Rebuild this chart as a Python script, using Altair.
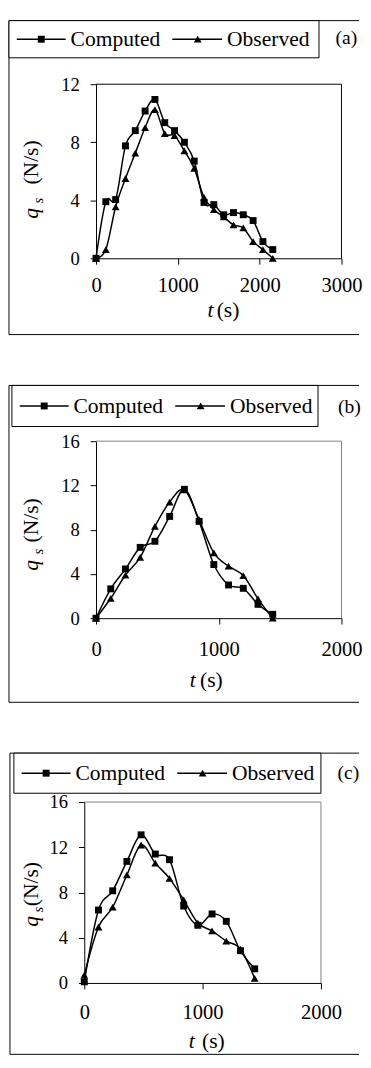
import altair as alt
import pandas as pd

FONT = "Liberation Serif"
SERIES = ["Computed", "Observed"]

# ---- data ----
t_a = [0, 120, 240, 360, 480, 600, 720, 840, 960, 1080, 1200, 1320, 1440, 1560, 1680, 1800, 1920, 2040, 2160]
computed_a = [0, 3.9, 4.05, 7.75, 8.8, 10.15, 10.95, 9.35, 8.8, 8.0, 6.7, 3.85, 3.7, 3.0, 3.15, 3.0, 2.6, 1.15, 0.6]
observed_a = [0, 0.6, 3.55, 5.5, 7.25, 9.0, 10.25, 8.6, 8.45, 7.4, 6.2, 4.2, 3.35, 2.85, 2.3, 2.1, 1.15, 0.6, 0]

t_b = [0, 120, 240, 360, 480, 600, 720, 840, 960, 1080, 1200, 1320, 1440]
computed_b = [0, 2.65, 4.45, 6.4, 6.95, 9.2, 11.65, 8.75, 4.85, 3.0, 2.7, 1.25, 0.35]
observed_b = [0, 1.8, 3.9, 5.5, 8.3, 10.5, 11.6, 8.9, 5.9, 4.7, 3.85, 1.75, 0]

t_c = [0, 120, 240, 360, 480, 600, 720, 840, 960, 1080, 1200, 1320, 1440]
computed_c = [0.1, 6.45, 8.15, 10.75, 13.1, 11.4, 10.9, 6.8, 5.1, 6.1, 5.45, 2.85, 1.25]
observed_c = [0.7, 4.95, 6.7, 9.55, 12.2, 10.6, 9.25, 7.35, 5.3, 4.6, 3.7, 3.0, 0.4]

x_ticks_a = [0, 1000, 2000, 3000]
y_ticks_a = [0, 4, 8, 12]
x_ticks_bc = [0, 1000, 2000]
y_ticks_bc = [0, 4, 8, 12, 16]

panel_tags = ["(a)", "(b)", "(c)"]

ONE = pd.DataFrame({"k": [0]})


def long_df(t, comp, obs):
    return pd.DataFrame({
        "t": list(t) + list(t),
        "q": list(comp) + list(obs),
        "series": ["Computed"] * len(t) + ["Observed"] * len(t),
    })


def txt(s, x, y, size, style="normal", angle=0, align="center", baseline="alphabetic"):
    return alt.Chart(pd.DataFrame({"s": [s]})).mark_text(
        font=FONT, fontSize=size, fontStyle=style, angle=angle,
        align=align, baseline=baseline, color="black"
    ).encode(text="s:N", x=alt.value(x), y=alt.value(y))


def hrule(x1, x2, y, width=1.0, color="black"):
    return alt.Chart(ONE).mark_rule(color=color, strokeWidth=width).encode(
        x=alt.value(x1), x2=alt.value(x2), y=alt.value(y))


def vrule(x, y1, y2, color="black"):
    return alt.Chart(ONE).mark_rule(color=color, strokeWidth=1).encode(
        x=alt.value(x), y=alt.value(y1), y2=alt.value(y2))


def marker(shape, size, x, y):
    return alt.Chart(ONE).mark_point(shape=shape, filled=True, size=size, color="black",
                                     opacity=1).encode(x=alt.value(x), y=alt.value(y))


def legend_layers(bx, by, bw, bh):
    cy = by + bh / 2
    rect = alt.Chart(ONE).mark_rect(fill="white", stroke="black", strokeWidth=1).encode(
        x=alt.value(bx), x2=alt.value(bx + bw), y=alt.value(by), y2=alt.value(by + bh))
    return [
        rect,
        hrule(bx + 8, bx + 58, cy, 1.5), marker("square", 50, bx + 33, cy),
        txt(SERIES[0], bx + 63, cy, 22, align="left", baseline="middle"),
        hrule(bx + 167, bx + 218, cy, 1.5), marker("triangle-up", 64, bx + 193, cy),
        txt(SERIES[1], bx + 223, cy, 22, align="left", baseline="middle"),
    ]


def panel(t, comp, obs, xmax, xticks, ymax, yticks, w, h, border, frame,
          box, tag, tagxy, yt, xt, xpad, xshift=0):
    df = long_df(t, comp, obs)
    base = alt.Chart(df)
    x0, x1 = -xshift, w - xshift
    xs = alt.X("t:Q", scale=alt.Scale(domain=[0, xmax], nice=False, range=[x0, x1]),
               axis=alt.Axis(values=xticks, title=None, grid=False, format="d",
                             domainColor="black", tickColor="black", tickSize=6,
                             labelFont=FONT, labelFontSize=21, labelColor="black",
                             labelPadding=xpad, labelFlush=False))
    ys = alt.Y("q:Q", scale=alt.Scale(domain=[0, ymax], nice=False),
               axis=alt.Axis(values=yticks, title=None, grid=False, format="d",
                             domainColor="black", tickColor="black", tickSize=6,
                             labelFont=FONT, labelFontSize=19, labelColor="black",
                             labelPadding=11, offset=xshift))
    lines = base.mark_line(color="black", strokeWidth=1.5, interpolate="cardinal").encode(
        x=xs, y=ys, detail="series:N")
    pts_c = base.transform_filter("datum.series == 'Computed'").mark_point(
        shape="square", filled=True, size=50, color="black", opacity=1).encode(x=xs, y=ys)
    pts_o = base.transform_filter("datum.series == 'Observed'").mark_point(
        shape="triangle-up", filled=True, size=64, color="black", opacity=1).encode(x=xs, y=ys)
    fl, ft, fb, fr = frame
    layers = [
        # plot-area border (top and right)
        hrule(x0, x1, 0, 1, border), vrule(x1, 0, h, border),
        lines, pts_c, pts_o,
        # panel frame
        hrule(fl, fr, ft), hrule(fl, fr, fb), vrule(fl, ft, fb),
    ] + legend_layers(*box) + [
        txt(tag, tagxy[0], tagxy[1], 20),
        # y title: q_s (N/s)
        txt("q", yt[0], yt[2], 22, "italic", 270),
        txt("s", yt[0] + 5, yt[3], 15, "italic", 270),
        txt("(N/s)", yt[0], yt[1], 22, "normal", 270),
        # x title: t (s)
        txt("t", xt[1], xt[0], 22, "italic"),
        txt("(s)", xt[2], xt[0], 22),
    ]
    return alt.layer(*layers).properties(
        width=w - xshift, height=h, view=alt.ViewBackground(stroke="transparent"))


pa = panel(t_a, computed_a, observed_a, 3000, x_ticks_a, 12, y_ticks_a, 251, 178, "black",
           (-89, -65, 256, 269), (-89, -65, 317, 38), panel_tags[0], (256, -41),
           (-59, 80, 132, 119), (238, 117, 135), 11)
pb = panel(t_b, computed_b, observed_b, 2000, x_ticks_bc, 16, y_ticks_bc, 251, 181, "#808080",
           (-89, -57, 267, 269), (-86, -57, 313, 42), panel_tags[1], (259, -29),
           (-59, 81, 127, 113), (251, 99, 118), 15)
pc = panel(t_c, computed_c, observed_c, 2000, x_ticks_bc, 16, y_ticks_bc, 242, 185, "#808080",
           (-88, -50, 258, 269), (-84, -50, 314, 41), panel_tags[2], (258, -24),
           (-59, 84, 122, 110), (252, 98, 120), 13, xshift=12)

chart = alt.concat(pa, pb, pc, columns=1, spacing=50).resolve_scale(
    x="independent", y="independent").properties(padding=0, background="white").configure(
    font=FONT).configure_axis(labelFont=FONT)

chart.save("out.html", embed_options={"renderer": "svg", "actions": False})
